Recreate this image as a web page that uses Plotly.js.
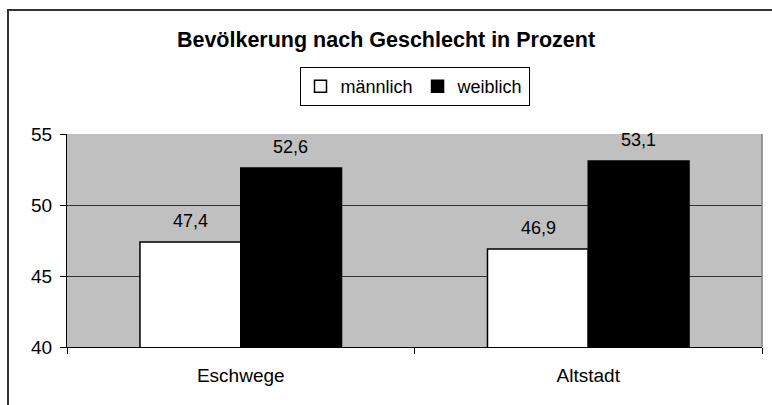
<!DOCTYPE html>
<html>
<head>
<meta charset="utf-8">
<script src="https://cdn.plot.ly/plotly-3.0.1.min.js"></script>
<style>html,body{margin:0;padding:0;background:#fff;}#chart{width:772px;height:405px;}</style>
</head>
<body>
<div id="chart"></div>
<script>
var categories = ["Eschwege", "Altstadt"];
var maleValues = [47.4, 46.9];
var femaleValues = [52.6, 53.1];
var seriesNames = ["männlich", "weiblich"];
var yTicks = [40, 45, 50, 55];
var titleText = "Bevölkerung nach Geschlecht in Prozent";

function fmt(v){ return v.toFixed(1).replace(".", ","); }

var font = "Liberation Sans, Arial, sans-serif";

var traces = [
  {type:"bar", name:seriesNames[0], x:categories, y:maleValues,
   marker:{color:"#ffffff", line:{color:"#000000", width:1.5}}, hoverinfo:"none"},
  {type:"bar", name:seriesNames[1], x:categories, y:femaleValues,
   marker:{color:"#000000", line:{color:"#000000", width:1.5}}, hoverinfo:"none"}
];

var annotations = [];
categories.forEach(function(c, i){
  annotations.push({x:c, y:maleValues[i], xref:"x", yref:"y", text:fmt(maleValues[i]), showarrow:false,
    xshift:-50, yshift:9, yanchor:"bottom", font:{family:font, size:18, color:"#000"}});
  annotations.push({x:c, y:femaleValues[i], xref:"x", yref:"y", text:fmt(femaleValues[i]), showarrow:false,
    xshift:50, yshift:9, yanchor:"bottom", font:{family:font, size:18, color:"#000"}});
});

var layout = {
  width:772, height:405,
  margin:{l:67, r:10, t:134, b:58, pad:0},
  paper_bgcolor:"#ffffff",
  plot_bgcolor:"#c0c0c0",
  font:{family:font, size:18, color:"#000"},
  title:{text:"<b>"+titleText+"</b>", font:{family:font, size:21.5, color:"#000"},
         x:0.5, xref:"container", y:1-39/405, yref:"container", yanchor:"middle"},
  barmode:"group",
  bargap:0.42,
  bargroupgap:0,
  showlegend:true,
  legend:{orientation:"h", x:0.5, xanchor:"center", y:(347-86.5)/213, yanchor:"middle",
          bordercolor:"#000", borderwidth:1, bgcolor:"#fff",
          font:{family:font, size:18, color:"#000"}, itemwidth:30, traceorder:"normal"},
  xaxis:{type:"category", showgrid:false, showline:true, linecolor:"#000", linewidth:1,
         ticks:"outside", tickson:"boundaries", ticklen:6, tickcolor:"#000",
         ticklabelstandoff:11, tickfont:{family:font, size:19, color:"#000"}, fixedrange:true},
  yaxis:{range:[40,55], tickvals:yTicks, ticktext:yTicks.map(String), showgrid:true, gridcolor:"#333",
         gridwidth:1, showline:true, linecolor:"#000", linewidth:1, ticks:"outside", ticklen:6,
         tickcolor:"#000", ticklabelstandoff:4, zeroline:false,
         tickfont:{family:font, size:19, color:"#000"}, fixedrange:true},
  annotations:annotations,
  shapes:[
    {type:"line", xref:"paper", yref:"paper", x0:1, x1:1, y0:0, y1:1, line:{color:"#808080", width:1.5}},
    {type:"rect", xref:"paper", yref:"paper", x0:(8-67)/695, x1:1.2, y0:-0.5, y1:(347-10)/213,
     line:{color:"#333", width:2}, fillcolor:"rgba(0,0,0,0)"}
  ]
};

Plotly.newPlot("chart", traces, layout, {displayModeBar:false, staticPlot:true});
</script>
</body>
</html>
